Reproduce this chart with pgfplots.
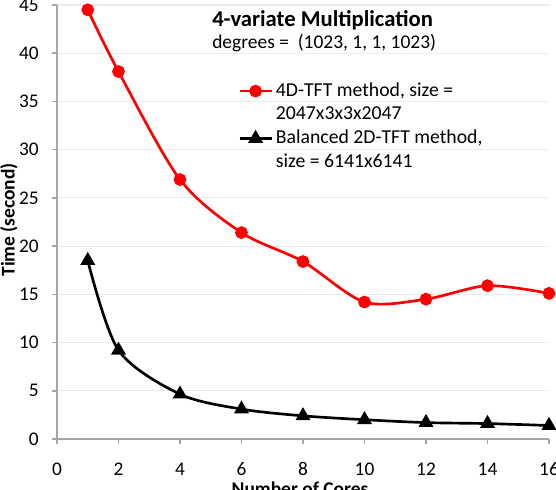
\documentclass[border=0pt]{standalone}
\usepackage{pgfplots}
\pgfplotsset{compat=1.18}
\usepackage{fontspec}
\setmainfont{Carlito}
\definecolor{axgray}{RGB}{166,166,166}
\definecolor{gridgray}{RGB}{236,236,236}
\begin{document}
\begin{tikzpicture}
\path[use as bounding box, clip] (0,0) rectangle (417pt,366.75pt);
\begin{axis}[
  at={(42.75pt,37.5pt)}, anchor=south west,
  scale only axis, width=369pt, height=325.5pt,
  xmin=0, xmax=16, ymin=0, ymax=45,
  xtick={0,2,...,16}, ytick={0,5,...,45},
  axis x line*=bottom, axis y line*=left,
  axis line style={axgray, line width=1.5pt, -},
  tick style={axgray, line width=1.2pt},
  major tick length=3.75pt, tick align=outside,
  ymajorgrids, grid style={gridgray, line width=0.8pt},
  /pgf/number format/assume math mode=true,
  ticklabel style={font=\fontsize{14.5}{17}\selectfont, black},
  xticklabel style={yshift=-10.5pt},
  yticklabel style={xshift=-6.4pt},
  xlabel={Number of Cores}, ylabel={Time (second)},
  xlabel style={font=\bfseries\fontsize{14.6}{17}\selectfont, at={(axis description cs:0.494,-0.130)}, anchor=base},
  ylabel style={font=\bfseries\fontsize{14.6}{17}\selectfont, at={(axis description cs:-0.0976,0.505)}, anchor=center},
  clip=false,
  legend style={at={(rel axis cs:0.3679,0.8295)}, anchor=north west, draw=none, fill=none,
    inner sep=0pt, column sep=2.25pt, row sep=0pt,
    font=\fontsize{14.8}{17.75}\selectfont,
    nodes={inner xsep=0pt, inner ysep=0pt, text height=12.75pt, text depth=5pt}},
  legend cell align=left,
  legend image code/.code={\draw[mark repeat=2,mark phase=2] plot coordinates {(0pt,0pt)(12pt,0pt)(24pt,0pt)};},
]
\addplot[red, line width=2pt, smooth, mark=*, mark size=3.75pt, mark options={solid, fill=red}]
  coordinates {(1,44.5)(2,38.1)(4,26.9)(6,21.4)(8,18.4)(10,14.2)(12,14.5)(14,15.9)(16,15.1)};
\addlegendentry{4D-TFT method, size =}
\addlegendimage{empty legend}
\addlegendentry{2047x3x3x2047}
\addplot[black, line width=2pt, smooth, mark=triangle*, mark size=4.5pt, mark options={solid, fill=black}]
  coordinates {(1,18.5)(2,9.2)(4,4.65)(6,3.1)(8,2.4)(10,2.0)(12,1.7)(14,1.6)(16,1.4)};
\addlegendentry{Balanced 2D-TFT method,}
\addlegendimage{empty legend}
\addlegendentry{size = 6141x6141}
\node[anchor=base west, font=\bfseries\fontsize{17}{20}\selectfont, inner sep=0pt] at (rel axis cs:0.315,0.9516) {4-variate Multiplication};
\node[anchor=base west, font=\fontsize{14.6}{17}\selectfont, inner sep=0pt] at (rel axis cs:0.315,0.8998) {degrees =~ (1023, 1, 1, 1023)};
\end{axis}
\end{tikzpicture}
\end{document}
